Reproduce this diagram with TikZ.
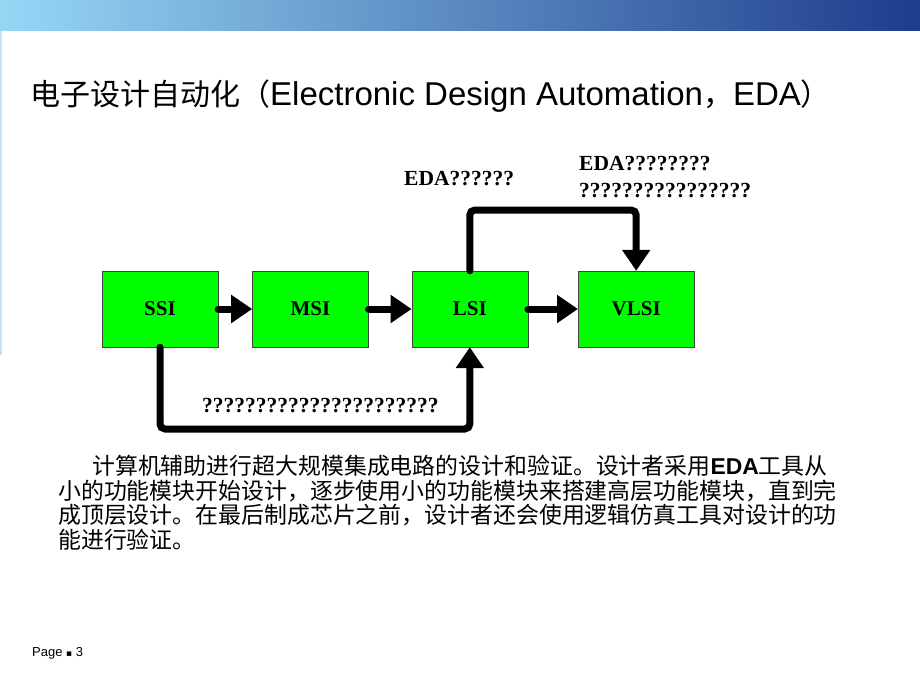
\documentclass[tikz,border=0pt]{standalone}
\usepackage{fontspec}
\setmainfont{Liberation Sans}
\newfontfamily\cjk{Noto Sans CJK SC}
\newfontfamily\tms{Liberation Serif}
\newfontfamily\dejavu{DejaVu Sans}
\usetikzlibrary{arrows.meta}
\usetikzlibrary{positioning}
\definecolor{boxgreen}{RGB}{0,255,0}
\definecolor{bandleft}{RGB}{150,215,245}
\definecolor{bandmid}{RGB}{80,150,225}
\definecolor{bandright}{RGB}{30,60,140}

\begin{document}
\begin{tikzpicture}[x=1pt,y=-1pt]
	\tikzset{
		B/.style={draw=black!75,fill=boxgreen,minimum width=116pt,minimum height=76pt,inner sep=0pt,font=\tms\bfseries\fontsize{21}{21}\selectfont},
		A/.style={line width=7pt,line cap=round,-{Triangle[length=21pt,width=27pt]}},
		Q/.style={anchor=west,inner sep=0pt,font=\tms\bfseries\fontsize{21.5}{21.5}\selectfont},
	}
	\useasboundingbox (0,0) rectangle (920,690);
	
	% header band
	\shade[left color=bandleft,middle color=bandmid,right color=bandright] (0,0) rectangle (920,31);
	\draw[bandleft!60,line width=1.5pt] (1,31) -- (1,355);
	
	\node[anchor=west,inner sep=0pt,font=\fontsize{33}{33}\selectfont] (title) at (30,96)
		{{\cjk\fontsize{30}{30}\selectfont 电子设计自动化（}Electronic Design Automation{\cjk\fontsize{30}{30}\selectfont ，}EDA{\cjk\fontsize{30}{30}\selectfont ）}};
	
	\node[B] (ssi) at (160,309) {SSI};
	\node[B,right=34pt of ssi] (msi) {MSI};
	\node[B,right=43pt of msi] (lsi) {LSI};
	\node[B,right=50pt of lsi] (vlsi) {VLSI};
	
	\coordinate (t) at (552,210);
	\coordinate (b) at (314,429);
	
	\path[A]
	(ssi) edge (msi)
	(msi) edge (lsi)
	(lsi) edge (vlsi);
	\draw[A,rounded corners=5pt] (lsi.north) |- (t) -| (vlsi.north);
	\draw[A,rounded corners=5pt] (ssi.south) |- (b) -| (lsi.south);
	
	\node[Q] (q1) at (404,179) {EDA??????};
	\node[Q] (q2) at (579,164) {EDA????????};
	\node[Q] (q3) at (579,191) {????????????????};
	\node[Q] (q4) at (202,406) {??????????????????????};
	
	\node[anchor=north west,inner sep=0pt,align=left,font=\cjk\fontsize{22.9}{24.5}\selectfont] (para) at (58,455) {
		\hspace*{34pt}计算机辅助进行超大规模集成电路的设计和验证。设计者采用{\rmfamily\bfseries EDA}工具从\\
		小的功能模块开始设计，逐步使用小的功能模块来搭建高层功能模块，直到完\\
		成顶层设计。在最后制成芯片之前，设计者还会使用逻辑仿真工具对设计的功\\
		能进行验证。
	};
	
	\node[anchor=west,inner sep=0pt,font=\fontsize{13}{13}\selectfont] (page) at (32,653) {Page {\dejavu\fontsize{9}{9}\selectfont ▪} 3};
\end{tikzpicture}
\end{document}
